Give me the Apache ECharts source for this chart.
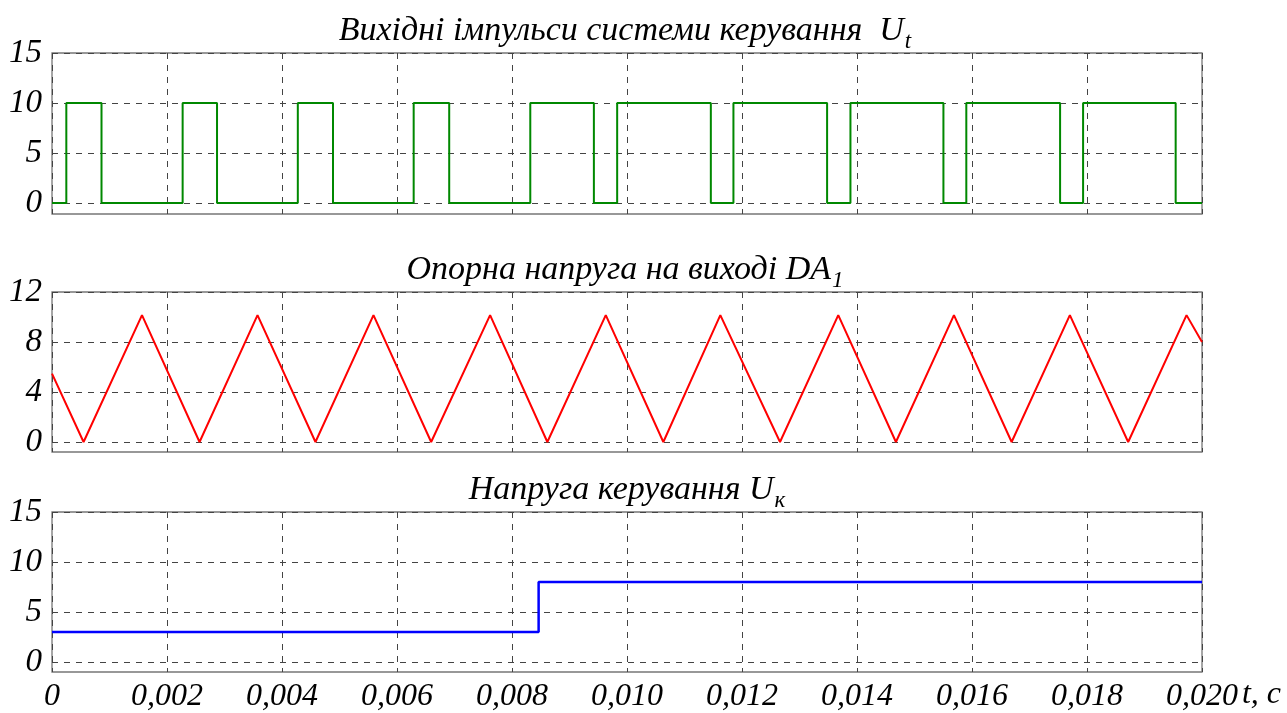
<!DOCTYPE html>
<html><head><meta charset="utf-8">
<script src="https://cdn.jsdelivr.net/npm/echarts@6/dist/echarts.min.js"></script>
<style>html,body{margin:0;padding:0;background:#fff}#c{width:1287px;height:713px}</style>
</head><body><div id="c"></div>
<script>
// ---- Data ----
const tMin = 0, tMax = 0.020, tStep = 0.002;
const xTickValues = [0, 0.002, 0.004, 0.006, 0.008, 0.010, 0.012, 0.014, 0.016, 0.018, 0.020];
const xTickLabels = ['0', '0,002', '0,004', '0,006', '0,008', '0,010', '0,012', '0,014', '0,016', '0,018', '0,020'];

// Panel 1: output pulses U_t (step signal)
const pulseTimes  = [0, 0.000249, 0.000861, 0.002272, 0.002870, 0.004275, 0.004887, 0.006290, 0.006908,
                     0.008318, 0.009424, 0.009829, 0.011458, 0.011851, 0.013480, 0.013886, 0.015503,
                     0.015901, 0.017532, 0.017932, 0.019542, 0.020];
const pulseValues = [0, 10, 0, 10, 0, 10, 0, 10, 0,
                     10, 0, 10, 0, 10, 0, 10, 0,
                     10, 0, 10, 0, 0];
const yTicks1 = [0, 5, 10, 15];

// Panel 2: reference triangle voltage at DA1 output
const triTimes  = [0, 0.000549, 0.001565, 0.002566, 0.003574, 0.004582, 0.005591, 0.006594, 0.007619,
                   0.008615, 0.009631, 0.010632, 0.011623, 0.012661, 0.013674, 0.014677, 0.015686,
                   0.016689, 0.017702, 0.018716, 0.019731, 0.020];
const triValues = [5.47, 0, 10.15, 0, 10.15, 0, 10.15, 0, 10.15,
                   0, 10.15, 0, 10.15, 0, 10.15, 0, 10.15,
                   0, 10.15, 0, 10.15, 8.0];
const yTicks2 = [0, 4, 8, 12];

// Panel 3: control voltage U_k (step)
const ukTimes  = [0, 0.008463, 0.020];
const ukValues = [3, 8, 8];
const yTicks3 = [0, 5, 10, 15];

// ---- Chart ----
const FONT = "'Liberation Serif', 'DejaVu Serif', serif";
const zip = (a, b) => a.map((v, i) => [v, b[i]]);

const L = 52, R = 1287 - 1202;
const grids = [
  {left: L, right: R, top: 53, height: 161},
  {left: L, right: R, top: 292, height: 160},
  {left: L, right: R, top: 512, height: 160}
].map(g => Object.assign(g, {show: true, borderColor: '#777', borderWidth: 1.3, backgroundColor: '#fff'}));

const gridLine = {show: true, lineStyle: {color: '#444', width: 1, type: [6, 6]}};

function xAx(i, showLabels) {
  return {
    type: 'value', gridIndex: i, min: tMin, max: tMax, interval: tStep,
    axisLine: {show: false}, axisTick: {show: false},
    splitLine: gridLine,
    axisLabel: {
      show: showLabels, margin: 9, color: '#000', fontFamily: FONT, fontStyle: 'italic', fontSize: 32,
      formatter: v => { const k = xTickValues.findIndex(t => Math.abs(t - v) < 1e-9); return k >= 0 ? xTickLabels[k] : ''; }
    },
    name: showLabels ? 't, c' : '',
    nameLocation: 'end', nameGap: 38,
    nameTextStyle: {color: '#000', fontFamily: FONT, fontStyle: 'italic', fontSize: 32, align: 'left', verticalAlign: 'top', padding: [17, 0, 0, 0]}
  };
}
function yAx(i, min, max, ticks) {
  return {
    type: 'value', gridIndex: i, min: min, max: max,
    axisLine: {show: false},
    axisTick: {show: false, customValues: ticks},
    splitLine: gridLine,
    axisLabel: {customValues: ticks, margin: 10, color: '#000', fontFamily: FONT, fontStyle: 'italic', fontSize: 33}
  };
}

const titleStyle = {
  fontFamily: FONT, fontStyle: 'italic', fontSize: 34, color: '#000', fontWeight: 'normal',
  rich: {
    m: {fontFamily: FONT, fontStyle: 'italic', fontSize: 34, color: '#000'},
    s: {fontFamily: FONT, fontStyle: 'italic', fontSize: 23, color: '#000', padding: [20, 0, 0, 1]}
  }
};

const option = {
  animation: false,
  backgroundColor: '#fff',
  title: [
    {text: '{m|Вихідні імпульси системи керування  U}{s|t}', left: 620, textAlign: 'center', top: 5, textStyle: titleStyle},
    {text: '{m|Опорна напруга на виході DA}{s|1}', left: 620, textAlign: 'center', top: 244, textStyle: titleStyle},
    {text: '{m|Напруга керування U}{s|к}', left: 622, textAlign: 'center', top: 464, textStyle: titleStyle}
  ],
  grid: grids,
  xAxis: [xAx(0, false), xAx(1, false), xAx(2, true)],
  yAxis: [yAx(0, -1.1, 15, yTicks1), yAx(1, -0.8, 12, yTicks2), yAx(2, -1, 15, yTicks3)],
  series: [
    {type: 'line', xAxisIndex: 0, yAxisIndex: 0, step: 'end', data: zip(pulseTimes, pulseValues),
     showSymbol: false, lineStyle: {color: '#008800', width: 2}},
    {type: 'line', xAxisIndex: 1, yAxisIndex: 1, data: zip(triTimes, triValues),
     showSymbol: false, lineStyle: {color: '#ff0000', width: 2}},
    {type: 'line', xAxisIndex: 2, yAxisIndex: 2, step: 'end', data: zip(ukTimes, ukValues),
     showSymbol: false, lineStyle: {color: '#0000ff', width: 2.5}}
  ]
};

const chart = echarts.init(document.getElementById('c'), null, {renderer: 'canvas'});
chart.setOption(option);
</script>
</body></html>
